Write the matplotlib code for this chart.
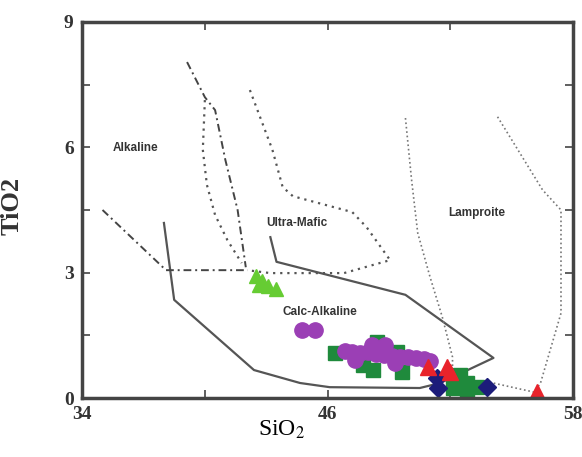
import matplotlib
matplotlib.use('Agg')
import matplotlib.pyplot as plt

plt.rcParams['mathtext.fontset'] = 'stix'

# field boundaries (SiO2, TiO2)
calc_x = [38.0, 38.5, 42.4, 44.65, 46.1, 50.5, 51.5, 54.1, 49.8, 43.5, 43.2]
calc_y = [4.19, 2.35, 0.67, 0.36, 0.26, 0.24, 0.36, 0.96, 2.47, 3.26, 3.85]

alk_x = [35.0, 38.1, 42.1]
alk_y = [4.5, 3.06, 3.06]

um_a_x = [39.13, 40.0, 40.5, 41.0, 41.6, 42.0]
um_a_y = [8.04, 7.2, 6.89, 5.7, 4.5, 3.13]
um_b_x = [40.0, 39.9, 40.1, 40.5, 41.1, 41.8]
um_b_y = [7.13, 5.94, 5.1, 4.38, 3.78, 3.23]
um_c_x = [42.2, 43.3, 43.8, 44.3, 47.2, 47.9, 49.05, 46.8, 43.2, 42.06]
um_c_y = [7.37, 5.94, 5.05, 4.83, 4.45, 4.09, 3.30, 2.99, 2.99, 3.06]

lamp_l_x = [49.8, 50.1, 50.4, 51.0, 51.6, 52.1, 52.1]
lamp_l_y = [6.70, 5.22, 3.95, 2.9, 1.94, 0.98, 0.5]
lamp_r_x = [54.3, 56.5, 57.4, 57.4, 56.4, 56.1, 53.9]
lamp_r_y = [6.73, 4.98, 4.5, 2.03, 0.36, 0.14, 0.38]

# samples
purple_x = [44.75, 45.39, 46.85, 47.20, 47.59, 47.98, 48.37, 48.76, 49.15, 49.54,
            49.93, 50.32, 50.72, 51.01, 47.34, 48.17, 49.30, 48.8]
purple_y = [1.63, 1.63, 1.12, 1.10, 1.08, 1.10, 1.05, 1.03, 1.01, 0.98,
            0.98, 0.96, 0.93, 0.89, 0.91, 1.27, 0.84, 1.27]
green_x = [46.37, 48.42, 47.73, 48.22, 49.64, 49.40, 52.47, 52.82, 52.13, 53.31, 52.82]
green_y = [1.08, 1.34, 0.79, 0.67, 0.62, 1.10, 0.55, 0.36, 0.24, 0.26, 0.17]
lime_x = [42.50, 42.80, 43.09, 43.48, 42.65]
lime_y = [2.92, 2.80, 2.68, 2.61, 2.70]
red_x = [50.91, 51.84, 51.99, 56.24]
red_y = [0.74, 0.74, 0.62, 0.14]
navy_x = [51.40, 51.35, 53.79]
navy_y = [0.24, 0.48, 0.26]

fig = plt.figure(figsize=(5.82, 4.57), dpi=100)
ax = fig.add_axes([0.141, 0.129, 0.844, 0.823])

ax.plot(calc_x, calc_y, '-', color='#555555', lw=1.6)
ax.plot(alk_x, alk_y, color='#444444', lw=1.4, dashes=(4, 2, 1, 2))
ax.plot(um_a_x, um_a_y, color='#444444', lw=1.4, dashes=(4, 2, 1, 2))
ax.plot(um_b_x, um_b_y, color='#555555', lw=1.6, dashes=(1, 2.2))
ax.plot(um_c_x, um_c_y, color='#555555', lw=1.6, dashes=(1, 2.2))
ax.plot(lamp_l_x, lamp_l_y, ':', color='#777777', lw=1.2)
ax.plot(lamp_r_x, lamp_r_y, ':', color='#777777', lw=1.2)

ax.plot(lime_x, lime_y, '^', color='#66cc33', ms=10, ls='none')
ax.plot(green_x, green_y, 's', color='#1f8a3c', ms=10, ls='none')
ax.plot(purple_x, purple_y, 'o', color='#9b3fb5', ms=11, ls='none')
ax.plot(navy_x, navy_y, 'D', color='#1c1c7a', ms=9, ls='none')
ax.plot(red_x, red_y, '^', color='#e8232b', ms=11, ls='none')

lab = dict(fontsize=8.5, fontweight='bold', color='#333333', family='Liberation Sans',
           ha='center', va='center')
ax.text(36.6, 5.99, 'Alkaline', **lab)
ax.text(44.5, 4.19, 'Ultra-Mafic', **lab)
ax.text(53.3, 4.43, 'Lamproite', **lab)
ax.text(45.6, 2.06, 'Calc-Alkaline', **lab)

ax.set_xlim(34, 58)
ax.set_ylim(0, 9)
ax.set_xticks([34, 40, 46, 52, 58])
ax.set_xticklabels(['34', '', '46', '', '58'])
ax.set_yticks([0, 1.5, 3, 4.5, 6, 7.5, 9])
ax.set_yticklabels(['0', '', '3', '', '6', '', '9'])
ax.tick_params(direction='in', length=6, width=1.2, color='#444444',
               top=True, right=True, pad=6)
for t in ax.get_xticklabels() + ax.get_yticklabels():
    t.set_family('Liberation Serif')
    t.set_fontweight('bold')
    t.set_fontsize(14)
    t.set_color('#333333')
for s in ax.spines.values():
    s.set_linewidth(2.5)
    s.set_color('#444444')

ax.set_xlabel('SiO$_2$', family='Liberation Serif', fontsize=17)
ax.xaxis.set_label_coords(0.407, -0.055)
ax.set_ylabel('TiO2', family='Liberation Serif', fontsize=19, fontweight='bold',
              color='#333333')
ax.yaxis.set_label_coords(-0.12, 0.51)

fig.savefig('out.png', dpi=100)
